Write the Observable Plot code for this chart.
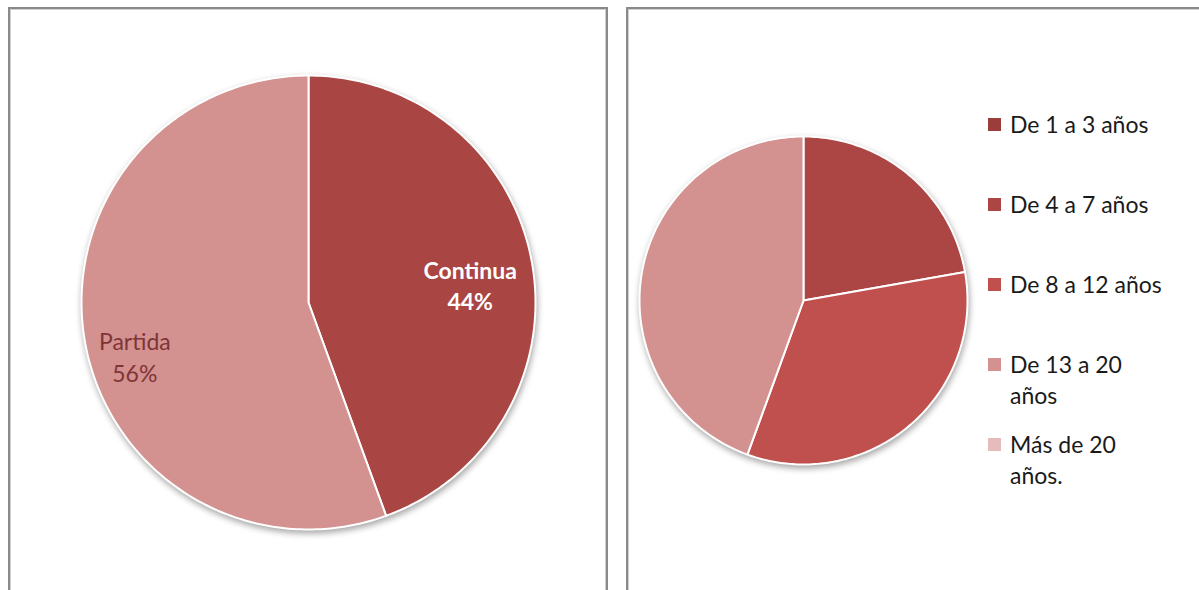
<!DOCTYPE html>
<html>
<head>
<meta charset="utf-8">
<script src="https://cdn.jsdelivr.net/npm/d3@7"></script>
<script src="https://cdn.jsdelivr.net/npm/@observablehq/plot@0.6"></script>
<style>
  html, body { margin: 0; padding: 0; background: #fff; }
  body { width: 1199px; height: 590px; position: relative; overflow: hidden; font-family: Lato, "Open Sans", sans-serif; }
  .panel { position: absolute; border: 2px solid #8a8a8a; box-shadow: inset 0 0 0 1px #d0d0d0; box-sizing: border-box; }
  .chart { position: absolute; }
  .chart svg g[aria-label="line"] { filter: drop-shadow(1px 3px 3px rgba(0,0,0,0.35)); }
  #legend { position: absolute; left: 988px; top: 0; }
  .item { position: absolute; left: 0; display: flex; align-items: flex-start; font-size: 23px; line-height: 31px; color: #1a1a1a; }
  .sw { width: 13px; height: 13px; margin-top: 9px; margin-right: 9px; flex: none; box-sizing: border-box; }
  .lab { width: 156px; }
</style>
</head>
<body>
<div class="panel" style="left:8px; top:7px; width:600px; height:600px;"></div>
<div class="panel" style="left:626px; top:7px; width:600px; height:600px;"></div>
<div id="left" class="chart" style="left:10px; top:9px;"></div>
<div id="right" class="chart" style="left:628px; top:9px;"></div>
<div id="legend"></div>
<script>
// ---- Data ----
const statusLabels = ["Continua", "Partida"];
const statusValues = [4, 5];
const statusColors = ["#A94543", "#D39190"];

const yearLabels = ["De 1 a 3 años", "De 4 a 7 años", "De 8 a 12 años", "De 13 a 20 años", "Más de 20 años."];
const yearValues = [0, 2, 3, 4, 0];
const yearColors = ["#9B3D3B", "#AB4644", "#C0504D", "#D39190", "#E6BBBB"];

// ---- helpers ----
function slices(labels, values, colors) {
  const pie = d3.pie().sort(null).value(d => d.value);
  return pie(labels.map((l, i) => ({label: l, value: values[i], color: colors[i]})));
}
function outline(arcs) {
  const pts = [];
  for (const a of arcs) {
    if (a.endAngle - a.startAngle <= 0) continue;
    pts.push({key: a.data.label, color: a.data.color, x: 0, y: 0});
    const n = Math.max(2, Math.ceil((a.endAngle - a.startAngle) / (Math.PI / 180)));
    for (let k = 0; k <= n; k++) {
      const t = a.startAngle + (a.endAngle - a.startAngle) * k / n;
      pts.push({key: a.data.label, color: a.data.color, x: Math.sin(t), y: Math.cos(t)});
    }
  }
  return pts;
}
function labelPoint(a, f, total) {
  const t = (a.startAngle + a.endAngle) / 2;
  return {x: f * Math.sin(t), y: f * Math.cos(t), text: a.data.label + "\n" + d3.format(".0%")(a.value / total)};
}
function pieScales(W, H, cx, cy, R) {
  return {
    x: {domain: [-cx / R, (W - cx) / R], range: [0, W], axis: null},
    y: {domain: [-(H - cy) / R, cy / R], range: [H, 0], axis: null}
  };
}

// ---- Left pie ----
{
  const W = 594, H = 581, cx = 298, cy = 293, R = 227;
  const arcs = slices(statusLabels, statusValues, statusColors);
  const total = d3.sum(statusValues);
  const s = pieScales(W, H, cx, cy, R);
  const lab = arcs.map(a => labelPoint(a, 0.75, total));
  const chart = Plot.plot({
    width: W, height: H, margin: 0,
    x: s.x, y: s.y,
    color: {type: "identity"},
    style: {fontFamily: "Lato, 'Open Sans', sans-serif", background: "transparent"},
    marks: [
      Plot.line(outline(arcs), {x: "x", y: "y", z: "key", fill: "color", stroke: "white", strokeWidth: 2, strokeLinejoin: "round", curve: "linear-closed"}),
      Plot.text([lab[0]], {x: "x", y: "y", text: "text", fill: "white", fontSize: 23, fontWeight: "bold", lineHeight: 1.35, dx: -6, dy: 12}),
      Plot.text([lab[1]], {x: "x", y: "y", text: "text", fill: "#7F3536", fontSize: 23, lineHeight: 1.35, dx: -6, dy: 24})
    ]
  });
  document.getElementById("left").appendChild(chart);
}

// ---- Right pie ----
{
  const W = 571, H = 581, cx = 175, cy = 291, R = 164;
  const arcs = slices(yearLabels, yearValues, yearColors);
  const s = pieScales(W, H, cx, cy, R);
  const chart = Plot.plot({
    width: W, height: H, margin: 0,
    x: s.x, y: s.y,
    color: {type: "identity"},
    style: {background: "transparent"},
    marks: [
      Plot.line(outline(arcs), {x: "x", y: "y", z: "key", fill: "color", stroke: "white", strokeWidth: 2, strokeLinejoin: "round", curve: "linear-closed"})
    ]
  });
  document.getElementById("right").appendChild(chart);
}

// ---- Legend ----
{
  const lg = document.getElementById("legend");
  yearLabels.forEach((l, i) => {
    const it = document.createElement("div");
    it.className = "item";
    it.style.top = (109 + i * 80) + "px";
    const sw = document.createElement("div");
    sw.className = "sw";
    sw.style.background = yearColors[i];
    const t = document.createElement("div");
    t.className = "lab";
    t.textContent = l;
    it.appendChild(sw); it.appendChild(t);
    lg.appendChild(it);
  });
}
</script>
</body>
</html>
